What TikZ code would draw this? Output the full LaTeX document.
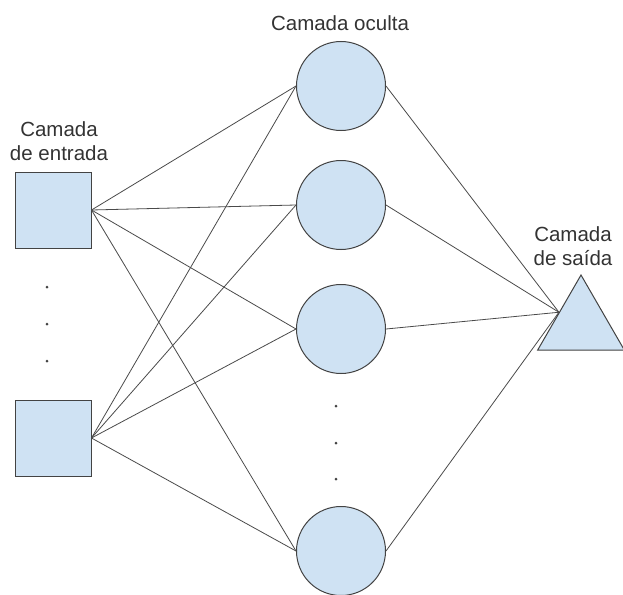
\documentclass[tikz,border=0pt]{standalone}
\usepackage{fontspec}
\setmainfont{Liberation Sans}
\usetikzlibrary{shapes.geometric}
\definecolor{nFill}{HTML}{CFE2F3}
\definecolor{nEdge}{HTML}{434343}
\definecolor{nLink}{HTML}{4A4A4A}
\definecolor{nText}{HTML}{333333}

\begin{document}
\begin{tikzpicture}[x=1pt, y=-1pt,
  unit/.style={draw=nEdge, fill=nFill, line width=1pt, inner sep=0pt},
  inbox/.style={unit, rectangle, minimum size=76pt},
  hid/.style={unit, circle, minimum size=89pt},
  outtri/.style={unit, regular polygon, regular polygon sides=3, minimum size=100pt},
  link/.style={nLink, line width=0.8pt},
  lbl/.style={font=\fontsize{20.5}{24}\selectfont, text=nText, align=center, anchor=north, inner sep=0pt}]
  \useasboundingbox (0,0) rectangle (623,594);
  % input layer
  \node[inbox] (in1) at (53,210) {};
  \node[inbox] (in2) at (53,438) {};
  % hidden layer
  \node[hid] (h1) at (341,86) {};
  \node[hid] (h2) at (341,205) {};
  \node[hid] (h3) at (341,329) {};
  \node[hid] (h4) at (341,551) {};
  % output layer
  \node[outtri] (out) at (581,325) {};
  % links
  \foreach \i in {1,2}
    \foreach \j in {1,...,4}
      \draw[link] (in\i.east) -- (h\j.west);
  \foreach \j in {1,...,4}
    \draw[link] (h\j.east) -- (out.side 1);
  % skipped units
  \foreach \y in {287,324,361}
    \fill[nEdge] (47,\y) circle (1.5pt);
  \foreach \y in {406,443,479}
    \fill[nEdge] (336,\y) circle (1.5pt);
  % layer names
  \node[lbl] (lin) at (59,121) {Camada\\de entrada};
  \node[lbl] (lhid) at (340,15) {Camada oculta};
  \node[lbl] (lout) at (573,226) {Camada\\de saída};
\end{tikzpicture}
\end{document}
